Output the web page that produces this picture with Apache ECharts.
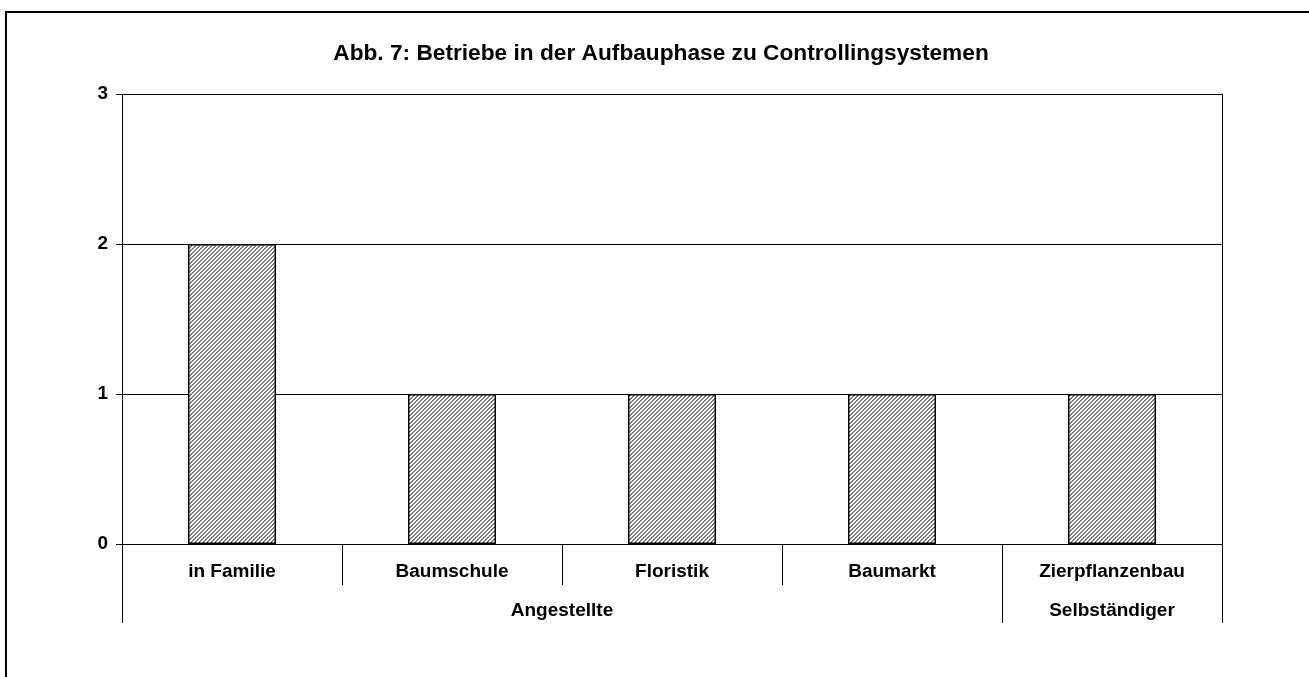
<!DOCTYPE html>
<html>
<head>
<meta charset="utf-8">
<title>Abb. 7</title>
<script src="https://cdn.jsdelivr.net/npm/echarts@6/dist/echarts.min.js"></script>
<style>
  html, body { margin: 0; padding: 0; background: #fff; overflow: hidden; }
  #chart { width: 1309px; height: 677px; }
</style>
</head>
<body>
<div id="chart"></div>
<script>
// Daten
const categories = ['in Familie', 'Baumschule', 'Floristik', 'Baumarkt', 'Zierpflanzenbau'];
const values = [2, 1, 1, 1, 1];
const groupNames = ['Angestellte', 'Selbständiger'];
const groupSizes = [4, 1];
const yMax = 3;

// group boundaries and label centers on the category scale
const groupBounds = [0];
const groupCenters = [];
groupSizes.forEach((n, i) => {
  const start = groupBounds[i];
  groupBounds.push(start + n);
  groupCenters.push(start + n / 2);
});

// diagonal hatch pattern
function hatch() {
  const c = document.createElement('canvas');
  c.width = 4;
  c.height = 4;
  const ctx = c.getContext('2d');
  const img = ctx.createImageData(4, 4);
  for (let y = 0; y < 4; y++) {
    for (let x = 0; x < 4; x++) {
      const dark = (x + y) % 4 < 2;
      const v = dark ? 128 : 255;
      const k = (y * 4 + x) * 4;
      img.data[k] = v; img.data[k + 1] = v; img.data[k + 2] = v; img.data[k + 3] = 255;
    }
  }
  ctx.putImageData(img, 0, 0);
  return c;
}

const font = { fontFamily: 'Liberation Sans, Arial, sans-serif', fontWeight: 'bold', color: '#000' };

const chart = echarts.init(document.getElementById('chart'));
chart.setOption({
  animation: false,
  backgroundColor: '#fff',
  title: {
    text: 'Abb. 7: Betriebe in der Aufbauphase zu Controllingsystemen',
    left: 656,
    top: 37,
    textAlign: 'center',
    textStyle: Object.assign({ fontSize: 22.7 }, font)
  },
  graphic: [{
    type: 'polyline',
    shape: { points: [[6, 700], [6, 12], [1320, 12]] },
    style: { fill: 'none', stroke: '#000', lineWidth: 2 },
    silent: true
  }],
  grid: { left: 122, top: 94, right: 87, bottom: 133 },
  xAxis: [
    {
      type: 'category',
      data: categories,
      axisLine: { lineStyle: { color: '#000', width: 1 } },
      axisTick: { show: true, interval: 0, length: 41, lineStyle: { color: '#000' } },
      axisLabel: Object.assign({ fontSize: 19, margin: 18, interval: 0 }, font)
    },
    {
      type: 'value',
      min: 0,
      max: categories.length,
      position: 'bottom',
      axisLine: { show: false },
      splitLine: { show: false },
      axisTick: { show: true, length: 79, customValues: groupBounds, lineStyle: { color: '#000' } },
      axisLabel: Object.assign({
        fontSize: 19,
        margin: 57,
        customValues: groupCenters,
        formatter: v => groupNames[groupCenters.indexOf(v)]
      }, font)
    }
  ],
  yAxis: [
    {
      type: 'value',
      min: 0,
      max: yMax,
      interval: 1,
      axisLine: { show: true, lineStyle: { color: '#000' } },
      axisTick: { show: true, length: 6, lineStyle: { color: '#000' } },
      splitLine: { lineStyle: { color: '#000', width: 1 } },
      axisLabel: Object.assign({ fontSize: 19, margin: 14 }, font)
    },
    {
      type: 'value',
      min: 0,
      max: yMax,
      position: 'right',
      axisLine: { show: true, lineStyle: { color: '#000' } },
      axisTick: { show: false },
      axisLabel: { show: false },
      splitLine: { show: false }
    }
  ],
  series: [{
    type: 'bar',
    data: values,
    barWidth: '40%',
    itemStyle: {
      color: { image: hatch(), repeat: 'repeat' },
      borderColor: '#000',
      borderWidth: 1.5
    }
  }]
});
</script>
</body>
</html>
